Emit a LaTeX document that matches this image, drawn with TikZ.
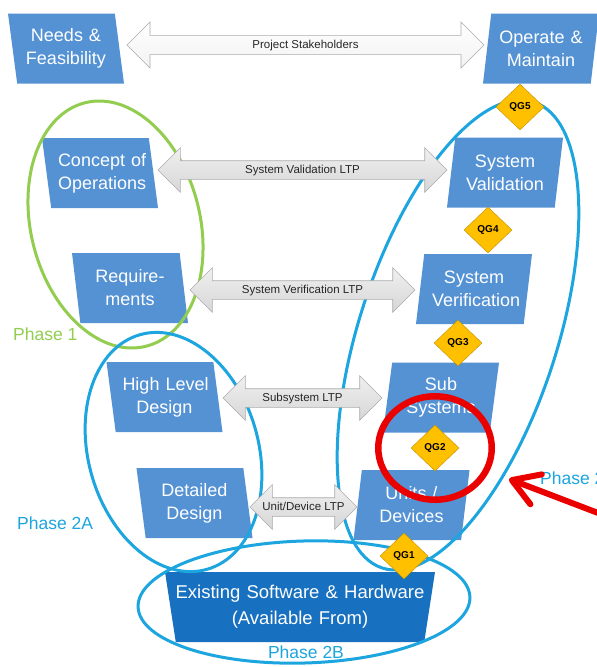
\documentclass[tikz,border=0pt]{standalone}
\usepackage{fontspec}
\newfontfamily\arialf{Liberation Sans}
\usetikzlibrary{shapes.geometric,shapes.arrows,arrows.meta}
\definecolor{boxblue}{RGB}{84,146,212}
\definecolor{baseblue}{RGB}{24,112,192}
\definecolor{phaseblue}{RGB}{28,165,222}
\definecolor{phasegreen}{RGB}{146,205,80}
\definecolor{gategold}{RGB}{255,192,0}
\definecolor{markred}{RGB}{235,0,0}

\begin{document}
\begin{tikzpicture}[x=1pt,y=-1pt,
  vbox/.style={trapezium, trapezium stretches body=true, minimum width=116pt,
    minimum height=70pt, inner sep=0pt, text width=84pt, align=center,
    fill=boxblue, text=white, font=\arialf\fontsize{18}{23}\selectfont},
  leanleft/.style={vbox, trapezium left angle=103, trapezium right angle=77},
  leanright/.style={vbox, trapezium left angle=77, trapezium right angle=103},
  basebox/.style={trapezium, trapezium stretches body=true,
    trapezium left angle=104, trapezium right angle=104,
    minimum width=270pt, minimum height=70pt, inner sep=0pt, text width=235pt,
    align=center, fill=baseblue, text=white,
    font=\arialf\fontsize{18.5}{26}\selectfont},
  gate/.style={diamond, fill=gategold, draw=gategold!75!black, line width=0.4pt,
    minimum width=48pt, minimum height=46pt, inner sep=0pt,
    font=\arialf\bfseries\fontsize{10}{12}\selectfont},
  ltp/.style={double arrow, double arrow head extend=13pt, minimum width=44pt,
    text height=8pt, text depth=2pt, inner ysep=4pt, inner xsep=0pt,
    draw=gray!65, line width=0.6pt, top color=gray!12, bottom color=gray!32,
    font=\arialf\fontsize{11.5}{12}\selectfont, text=black!85},
  phaseline/.style={line width=3pt},
  phaselabel/.style={inner sep=0pt, font=\arialf\fontsize{17.5}{20}\selectfont},
  marker/.style={draw=markred, line width=6.5pt},
]
\useasboundingbox (0,0) rectangle (597,667);
\clip (0,0) rectangle (597,667);
\fill[white] (0,0) rectangle (597,667);

% left leg of the V
\node[leanleft] (needs)  at (66,48.5)  {\mbox{Needs \&}\\Feasibility};
\node[leanleft] (conops) at (100,173)  {\mbox{Concept of}\\Operations};
\node[leanleft] (reqs)   at (130,288)  {Require-\\ments};
\node[leanleft] (hld)    at (164.5,397){\mbox{High Level}\\Design};
\node[leanleft] (dd)     at (194.5,503){Detailed\\Design};

% right leg of the V
\node[leanright] (om)     at (541,48.5)  {\mbox{Operate \&}\\Maintain};
\node[leanright] (sval)   at (505,172.5) {System\\Validation};
\node[leanright] (sver)   at (474,289)   {System\\Verification};
\node[leanright] (subsys) at (441,397.5) {Sub\\Systems};
\node[leanright] (units)  at (411.5,505) {\mbox{Units /}\\Devices};

% base of the V
\node[basebox] (existing) at (300,607)
  {\makebox[\linewidth]{Existing Software \& Hardware}\\(Available From)};

% phase groupings
\draw[phaseline, draw=phasegreen, rotate around={14:(115.5,224.5)}]
  (115.5,224.5) ellipse [x radius=84.6pt, y radius=125.5pt];
\draw[phaseline, draw=phaseblue, rotate around={16:(173.5,452)}]
  (173.5,452) ellipse [x radius=85pt, y radius=122pt];
\draw[phaseline, draw=phaseblue, rotate around={-18:(458,335)}]
  (458,335) ellipse [x radius=99pt, y radius=245pt];
\draw[phaseline, draw=phaseblue, rotate around={1.7:(304,602)}]
  (304,602) ellipse [x radius=166pt, y radius=61pt];

\node[phaselabel, text=phasegreen, anchor=west] (ph1)  at (13,334)  {Phase 1};
\node[phaselabel, text=phaseblue,  anchor=west] (ph2a) at (17,523)  {Phase 2A};
\node[phaselabel, text=phaseblue]               (ph2b) at (306,652) {Phase 2B};
\node[phaselabel, text=phaseblue,  anchor=west] (ph2)  at (540,478) {Phase 2};

% test plans linking the two legs
\node[ltp, top color=white, bottom color=gray!10, minimum height=357pt,
  minimum width=46pt] (stake) at (305.5,45) {\makebox[0pt]{Project Stakeholders}};
\node[ltp, minimum height=289pt] (ltpval)  at (302.5,170) {\makebox[0pt]{System Validation LTP}};
\node[ltp, minimum height=225pt] (ltpver)  at (302.5,290) {\makebox[0pt]{System Verification LTP}};
\node[ltp, minimum height=159pt] (ltpsub)  at (302.5,398) {\makebox[0pt]{Subsystem LTP}};
\node[ltp, minimum height=107pt] (ltpunit) at (303.5,507) {\makebox[0pt]{Unit/Device LTP}};

% quality gates
\node[gate] (qg5) at (520,107) {QG5};
\node[gate] (qg4) at (488,230) {QG4};
\node[gate] (qg3) at (458,343) {QG3};
\node[gate] (qg2) at (435,448) {QG2};
\node[gate] (qg1) at (404,556) {QG1};

% highlight on QG2
\node[marker, ellipse, minimum width=113.5pt, minimum height=103.5pt, inner sep=0pt]
  (focus) at (435,448) {};
\coordinate (redtail) at (606,516);
\coordinate (redtip)  at (509,479);
\draw[markred, line width=6pt, line cap=round,
  -{Straight Barb[length=26pt,width=32pt,round]}] (redtail) -- (redtip);
\end{tikzpicture}
\end{document}
